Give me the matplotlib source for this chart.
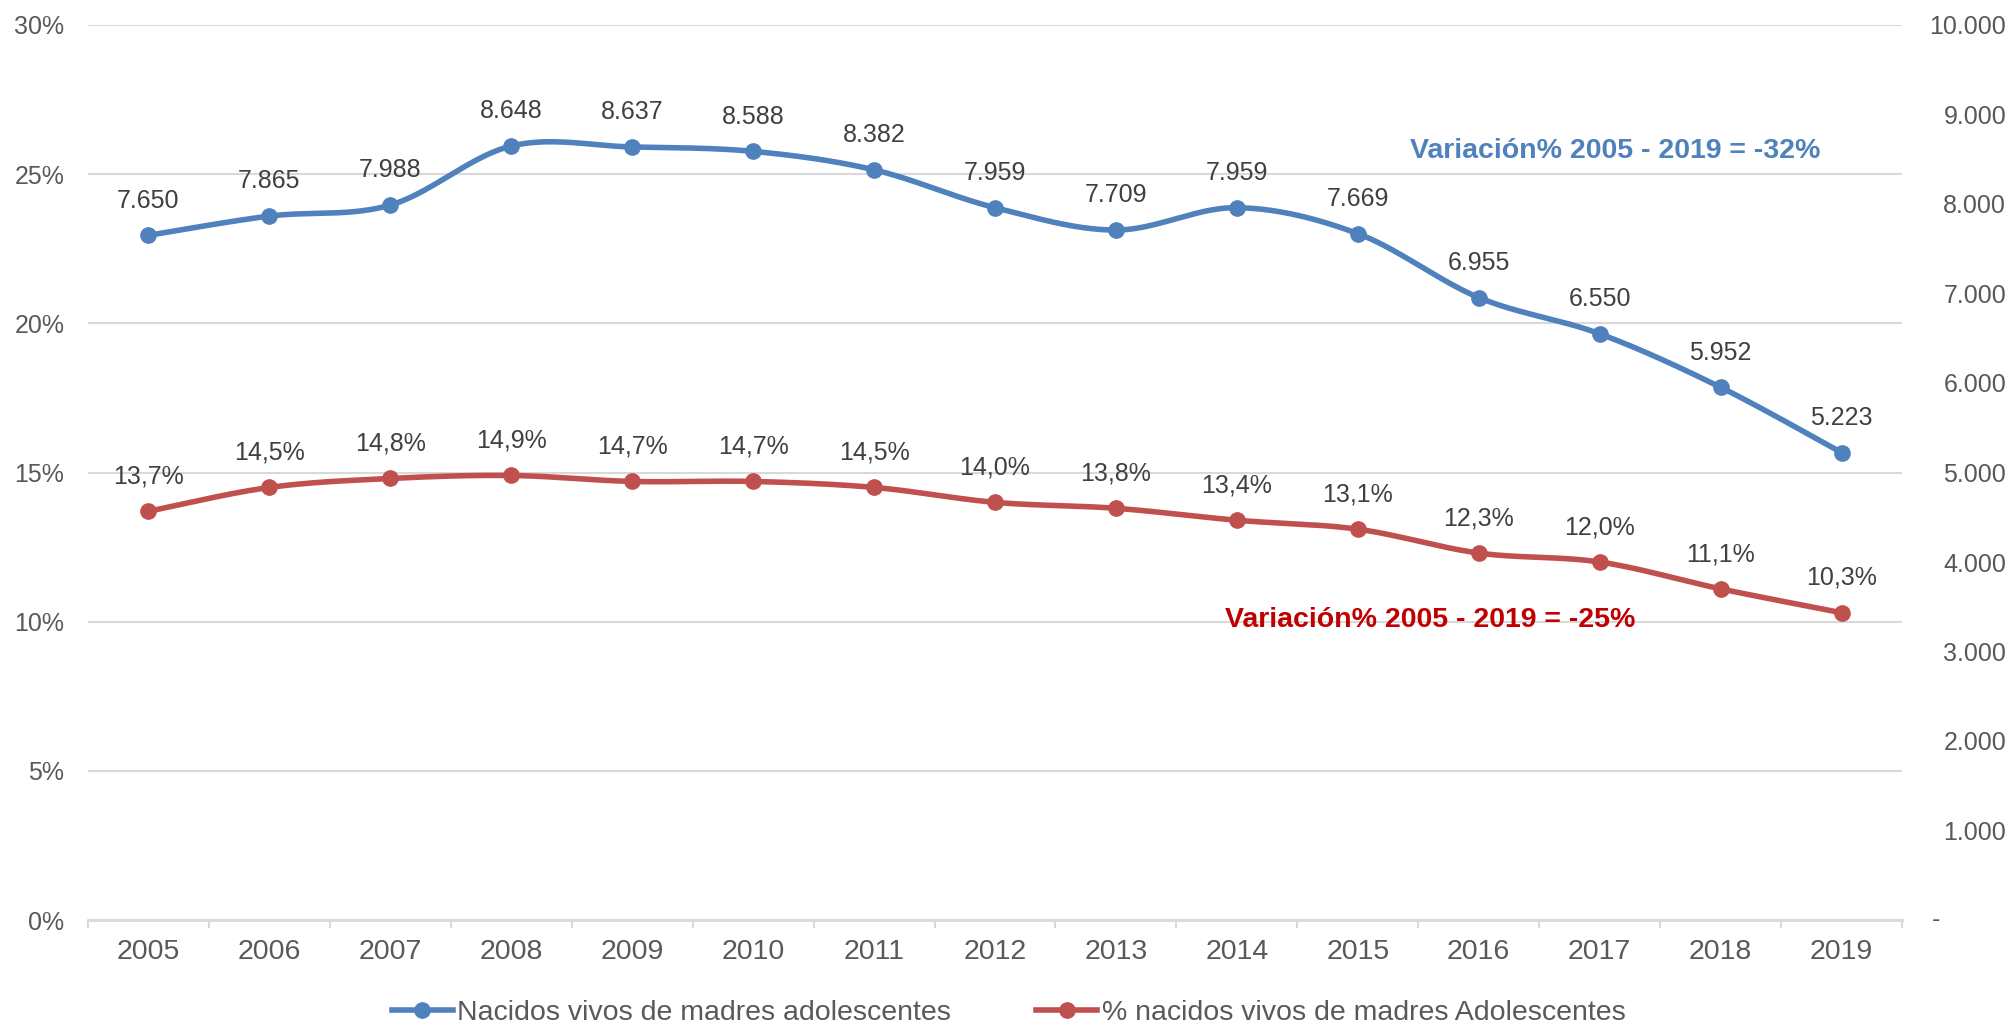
import numpy as np
import matplotlib
matplotlib.use("Agg")
import matplotlib.pyplot as plt
from matplotlib.lines import Line2D
from matplotlib.transforms import blended_transform_factory

plt.rcParams['font.family'] = ['Liberation Sans', 'DejaVu Sans']

years = ['2005', '2006', '2007', '2008', '2009', '2010', '2011', '2012',
         '2013', '2014', '2015', '2016', '2017', '2018', '2019']
nacidos = [7650, 7865, 7988, 8648, 8637, 8588, 8382, 7959, 7709, 7959,
           7669, 6955, 6550, 5952, 5223]
porcentaje = [13.7, 14.5, 14.8, 14.9, 14.7, 14.7, 14.5, 14.0, 13.8, 13.4,
              13.1, 12.3, 12.0, 11.1, 10.3]
left_ticks = [0, 5, 10, 15, 20, 25, 30]
right_ticks = [0, 1000, 2000, 3000, 4000, 5000, 6000, 7000, 8000, 9000, 10000]

BLUE = '#4F81BD'
RED = '#C0504D'
TXT = '#595959'
GRID = '#D9D9D9'
FS = 18
FS_BIG = 20.5
LW = 4.0
MS = 11


def smooth(x, y, n=40):
    x = np.asarray(x, float)
    y = np.asarray(y, float)
    P = np.column_stack([x, y])
    out = []
    for i in range(len(P) - 1):
        p0 = P[i - 1] if i > 0 else P[i]
        p1 = P[i]
        p2 = P[i + 1]
        p3 = P[i + 2] if i + 2 < len(P) else P[i + 1]
        c1 = p1 + (p2 - p0) / 6.0
        c2 = p2 - (p3 - p1) / 6.0
        t = np.linspace(0, 1, n)[:, None]
        seg = ((1 - t) ** 3) * p1 + 3 * ((1 - t) ** 2) * t * c1 + 3 * (1 - t) * t ** 2 * c2 + t ** 3 * p2
        out.append(seg if i == 0 else seg[1:])
    s = np.vstack(out)
    return s[:, 0], s[:, 1]


def fmt_thousands(v):
    return f"{int(v):,}".replace(",", ".")


fig = plt.figure(figsize=(20.13, 10.26), dpi=100)
ax = fig.add_axes([88 / 2013, 106 / 1026, (1902 - 88) / 2013, (920 - 25) / 1026])
ax2 = ax.twinx()

x = np.arange(len(years))

# red series on left axis
sx, sy = smooth(x, porcentaje)
ax.plot(sx, sy, color=RED, lw=LW, solid_capstyle='round', zorder=3)
ax.plot(x, porcentaje, 'o', color=RED, ms=MS, zorder=4)
for xi, v in zip(x, porcentaje):
    ax.annotate(f"{v:.1f}%".replace(".", ","), (xi, v), xytext=(0, 25),
                textcoords='offset points', ha='center', va='center',
                fontsize=FS, color='#404040')

# blue series on right axis
bx, by = smooth(x, nacidos)
ax2.plot(bx, by, color=BLUE, lw=LW, solid_capstyle='round', zorder=3)
ax2.plot(x, nacidos, 'o', color=BLUE, ms=MS, zorder=4)
for xi, v in zip(x, nacidos):
    ax2.annotate(fmt_thousands(v), (xi, v), xytext=(0, 25),
                 textcoords='offset points', ha='center', va='center',
                 fontsize=FS, color='#404040')

ax.set_xlim(-0.5, len(years) - 0.5)
ax.set_ylim(0, 30)
ax2.set_ylim(0, 10000)

ax.set_yticks(left_ticks)
ax.set_yticklabels([f"{t}%" for t in left_ticks])
ax.yaxis.grid(True, color=GRID, lw=1.5)
ax.set_axisbelow(True)
ax.tick_params(axis='y', length=0, pad=17, labelsize=FS, labelcolor=TXT)

ax2.set_yticks(right_ticks)
ax2.set_yticklabels([fmt_thousands(t) if t > 0 else "" for t in right_ticks], ha='right')
ax2.tick_params(axis='y', length=0, pad=75, labelsize=FS, labelcolor=TXT)
tr = blended_transform_factory(fig.transFigure, ax2.transData)
ax2.text(1936 / 2013, 0, "-", transform=tr, ha='center', va='center',
         fontsize=FS, color=TXT)

ax.set_xticks(x)
ax.set_xticklabels(years)
ax.set_xticks(np.arange(-0.5, len(years), 1.0), minor=True)
ax.tick_params(axis='x', which='major', length=0, pad=14, labelsize=FS_BIG, labelcolor=TXT)
ax.tick_params(axis='x', which='minor', length=6, width=1.5, color=GRID)

for a in (ax, ax2):
    for side in ('top', 'left', 'right'):
        a.spines[side].set_visible(False)
    a.spines['bottom'].set_color(GRID)
    a.spines['bottom'].set_linewidth(2)
ax2.spines['bottom'].set_visible(False)

ax.text(0.842, 0.859, "Variación% 2005 - 2019 = -32%", transform=ax.transAxes,
        ha='center', va='center', fontsize=FS_BIG, fontweight='bold', color=BLUE)
ax.text(0.740, 0.335, "Variación% 2005 - 2019 = -25%", transform=ax.transAxes,
        ha='center', va='center', fontsize=FS_BIG, fontweight='bold', color='#C00000')

handles = [Line2D([], [], color=BLUE, lw=LW, marker='o', ms=MS),
           Line2D([], [], color=RED, lw=LW, marker='o', ms=MS)]
labels = ["Nacidos vivos de madres adolescentes", "% nacidos vivos de madres Adolescentes"]
fig.legend(handles, labels, loc='center', bbox_to_anchor=(0.501, 0.013), ncol=2,
           frameon=False, fontsize=FS_BIG, labelcolor=TXT, handlelength=2.15,
           handletextpad=0.15, columnspacing=3.0)

fig.savefig("out.png", dpi=100)
